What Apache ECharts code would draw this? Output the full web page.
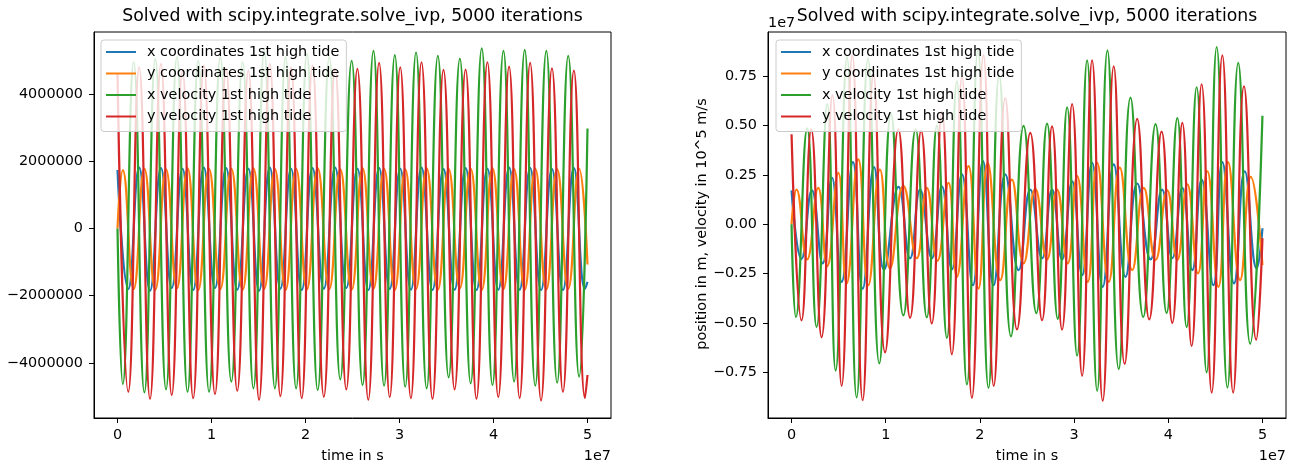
<!DOCTYPE html>
<html>
<head>
<meta charset="utf-8">
<script src="https://cdn.jsdelivr.net/npm/echarts@6/dist/echarts.min.js"></script>
<style>
  html, body { margin: 0; padding: 0; background: #fff; }
  #chart { width: 1295px; height: 468px; }
</style>
</head>
<body>
<div id="chart"></div>
<script>
var seriesNames = [
  "x coordinates 1st high tide",
  "y coordinates 1st high tide",
  "x velocity 1st high tide",
  "y velocity 1st high tide"
];
var colors = ["#1f77b4", "#ff7f0e", "#2ca02c", "#d62728"];
var titleText = "Solved with scipy.integrate.solve_ivp, 5000 iterations";

var xTicks = [0, 1, 2, 3, 4, 5]; // time, units of 1e7 s
var leftYTicks = [-4000000, -2000000, 0, 2000000, 4000000];
var rightYTicks = [-0.75, -0.5, -0.25, 0, 0.25, 0.5, 0.75]; // units of 1e7

// ---- left plot: times of the extrema (1e7 s) ----
// x coordinate / y velocity maxima (after t = 0)
var leftMaxT = [0.230, 0.462, 0.691, 0.918, 1.155, 1.392, 1.620, 1.846, 2.074, 2.315, 2.552,
  2.783, 3.008, 3.234, 3.468, 3.703, 3.935, 4.166, 4.390, 4.622, 4.855];
// y coordinate maxima / x velocity minima
var leftQ1T = [0.056, 0.286, 0.516, 0.745, 0.974, 1.211, 1.446, 1.674, 1.900, 2.130, 2.370,
  2.607, 2.836, 3.061, 3.289, 3.523, 3.757, 3.989, 4.219, 4.444, 4.677, 4.911];
// x coordinate / y velocity minima
var leftMinT = [0.115, 0.346, 0.577, 0.805, 1.037, 1.274, 1.506, 1.733, 1.960, 2.195, 2.434,
  2.668, 2.896, 3.121, 3.351, 3.586, 3.819, 4.051, 4.278, 4.506, 4.739, 4.973];
// y coordinate minima / x velocity maxima
var leftQ3T = [0.172, 0.402, 0.632, 0.859, 1.094, 1.331, 1.561, 1.788, 2.015, 2.253, 2.491,
  2.723, 2.950, 3.176, 3.408, 3.642, 3.875, 4.106, 4.332, 4.562, 4.795];

// ---- left plot: extremum values (units of 1e6) ----
var leftXPosMax = [1.81, 1.80, 1.78, 1.81, 1.80, 1.78, 1.81, 1.78, 1.80, 1.81, 1.78,
  1.80, 1.78, 1.81, 1.77, 1.80, 1.78, 1.81, 1.80, 1.77, 1.80];
var leftXPosMin = [-1.80, -1.85, -1.77, -1.83, -1.77, -1.82, -1.85, -1.79, -1.83, -1.79, -1.77,
  -1.83, -1.80, -1.82, -1.83, -1.82, -1.83, -1.82, -1.82, -1.83, -1.83, -1.80];
var leftYPosMax = [1.74, 1.78, 1.76, 1.79, 1.77, 1.78, 1.79, 1.77, 1.78, 1.79, 1.76,
  1.79, 1.78, 1.76, 1.79, 1.77, 1.78, 1.79, 1.77, 1.78, 1.76, 1.78];
var leftYPosMin = [-1.80, -1.82, -1.78, -1.83, -1.80, -1.82, -1.79, -1.83, -1.81, -1.80, -1.82,
  -1.79, -1.83, -1.80, -1.82, -1.78, -1.83, -1.80, -1.82, -1.81, -1.79];
var leftXVelMin = [-4.63, -4.88, -4.79, -4.86, -4.86, -4.56, -4.76, -4.76, -4.76, -4.81, -4.49,
  -4.66, -4.68, -4.71, -4.76, -4.43, -4.61, -4.66, -4.56, -4.68, -4.59, -4.41];
var leftXVelMax = [4.95, 5.04, 5.10, 5.00, 5.10, 4.95, 5.29, 5.10, 5.20, 5.10, 4.99,
  5.29, 5.16, 5.24, 5.14, 5.06, 5.36, 5.29, 5.32, 5.29, 5.14];
var leftYVelMax = [4.80, 4.90, 4.70, 4.85, 4.75, 4.70, 4.90, 4.80, 4.85, 4.75, 4.75,
  4.93, 4.80, 4.95, 4.72, 4.73, 4.95, 4.82, 4.93, 4.77, 4.70];
var leftYVelMin = [-4.86, -5.07, -4.96, -5.05, -4.93, -4.83, -5.10, -4.99, -5.05, -5.01, -4.79,
  -5.10, -5.02, -5.05, -5.07, -4.79, -5.07, -5.02, -5.05, -5.12, -4.86, -5.05];
// values at t = 0 and t = 5e7 s (1e6)
var leftStart = [1.74, 0, 0, 4.60];
var leftEnd = [-1.59, -1.07, 2.98, -4.36];

// ---- right plot: [time (1e7 s), value (1e7)] at start, extrema and end ----
var rightXPos = [[0, 0.172], [0.106, -0.175], [0.216, 0.172], [0.330, -0.198], [0.429, 0.236],
  [0.532, -0.292], [0.652, 0.315], [0.755, -0.326], [0.876, 0.290], [0.982, -0.230],
  [1.136, 0.190], [1.259, -0.172], [1.365, 0.176], [1.489, -0.172], [1.596, 0.193],
  [1.702, -0.229], [1.809, 0.253], [1.926, -0.309], [2.032, 0.320], [2.145, -0.309],
  [2.269, 0.253], [2.411, -0.232], [2.535, 0.176], [2.660, -0.172], [2.766, 0.176],
  [2.872, -0.178], [2.979, 0.218], [3.085, -0.258], [3.191, 0.312], [3.304, -0.317],
  [3.421, 0.304], [3.546, -0.266], [3.670, 0.207], [3.812, -0.178], [3.934, 0.176],
  [4.043, -0.172], [4.149, 0.185], [4.255, -0.232], [4.354, 0.227], [4.479, -0.309],
  [4.574, 0.315], [4.698, -0.300], [4.812, 0.269], [4.939, -0.224], [5.0, -0.020]];
var rightYPos = [[0, 0], [0.053, 0.176], [0.166, -0.178], [0.283, 0.185], [0.379, -0.212],
  [0.496, 0.261], [0.585, -0.300], [0.709, 0.329], [0.815, -0.309], [0.939, 0.278],
  [1.046, -0.224], [1.187, 0.195], [1.330, -0.172], [1.436, 0.185], [1.549, -0.185],
  [1.666, 0.210], [1.755, -0.266], [1.879, 0.295], [1.985, -0.326], [2.083, 0.310],
  [2.216, -0.283], [2.340, 0.227], [2.464, -0.198], [2.588, 0.180], [2.713, -0.178],
  [2.819, 0.176], [2.932, -0.198], [3.032, 0.244], [3.145, -0.292], [3.245, 0.312],
  [3.368, -0.292], [3.485, 0.287], [3.617, -0.232], [3.740, 0.185], [3.865, -0.181],
  [3.989, 0.172], [4.096, -0.181], [4.202, 0.202], [4.315, -0.249], [4.415, 0.269],
  [4.532, -0.317], [4.634, 0.315], [4.762, -0.283], [4.876, 0.240], [5.0, -0.207]];
var rightXVel = [[0, 0], [0.046, -0.470], [0.166, 0.486], [0.266, -0.520], [0.379, 0.610],
  [0.468, -0.742], [0.588, 0.848], [0.691, -0.878], [0.812, 0.840], [0.932, -0.705],
  [1.056, 0.560], [1.187, -0.462], [1.317, 0.482], [1.436, -0.472], [1.543, 0.500],
  [1.649, -0.576], [1.755, 0.725], [1.862, -0.812], [1.979, 0.885], [2.091, -0.830],
  [2.205, 0.754], [2.330, -0.568], [2.464, 0.499], [2.599, -0.450], [2.713, 0.510],
  [2.826, -0.479], [2.926, 0.593], [3.032, -0.666], [3.138, 0.831], [3.245, -0.844],
  [3.354, 0.882], [3.474, -0.734], [3.599, 0.642], [3.734, -0.470], [3.865, 0.508],
  [3.982, -0.450], [4.096, 0.538], [4.195, -0.521], [4.301, 0.695], [4.407, -0.751],
  [4.514, 0.899], [4.628, -0.828], [4.743, 0.818], [4.870, -0.606], [5.0, 0.550]];
var rightYVel = [[0, 0.457], [0.106, -0.487], [0.209, 0.482], [0.319, -0.572], [0.434, 0.655],
  [0.532, -0.819], [0.645, 0.856], [0.755, -0.892], [0.870, 0.760], [0.993, -0.649],
  [1.134, 0.482], [1.259, -0.474], [1.376, 0.474], [1.489, -0.503], [1.596, 0.570],
  [1.702, -0.659], [1.809, 0.746], [1.915, -0.880], [2.038, 0.856], [2.147, -0.819],
  [2.269, 0.640], [2.394, -0.533], [2.535, 0.464], [2.660, -0.486], [2.766, 0.497],
  [2.872, -0.534], [2.979, 0.610], [3.085, -0.768], [3.191, 0.831], [3.304, -0.895],
  [3.421, 0.801], [3.537, -0.708], [3.670, 0.535], [3.798, -0.482], [3.929, 0.470],
  [4.043, -0.500], [4.149, 0.514], [4.248, -0.617], [4.354, 0.710], [4.461, -0.853],
  [4.574, 0.856], [4.689, -0.853], [4.804, 0.700], [4.934, -0.585], [5.0, -0.070]];

var font = "DejaVu Sans";
var textSize = 14.4;

// merge two lists of extrema into one line, in plot units
function leftLine(start, end, tA, vA, tB, vB) {
  var pts = [[0, start]];
  for (var i = 0; i < tA.length; i++) pts.push([tA[i], vA[i]]);
  for (var j = 0; j < tB.length; j++) pts.push([tB[j], vB[j]]);
  pts.sort(function (a, b) { return a[0] - b[0]; });
  pts.push([5, end]);
  return pts.map(function (p) { return [p[0], p[1] * 1e6]; });
}

var leftData = [
  leftLine(leftStart[0], leftEnd[0], leftMaxT, leftXPosMax, leftMinT, leftXPosMin),
  leftLine(leftStart[1], leftEnd[1], leftQ1T, leftYPosMax, leftQ3T, leftYPosMin),
  leftLine(leftStart[2], leftEnd[2], leftQ1T, leftXVelMin, leftQ3T, leftXVelMax),
  leftLine(leftStart[3], leftEnd[3], leftMaxT, leftYVelMax, leftMinT, leftYVelMin)
];
var rightData = [rightXPos, rightYPos, rightXVel, rightYVel];

function minus(s) {
  return s.charAt(0) === "-" ? "\u2212" + s.slice(1) : s;
}

function timeAxis(grid) {
  return {
    type: "value", gridIndex: grid, min: -0.25, max: 5.25,
    axisLine: { onZero: false, lineStyle: { color: "#000", width: 1 } },
    axisTick: { customValues: xTicks, length: 5, lineStyle: { color: "#000" } },
    axisLabel: { customValues: xTicks, margin: 10, color: "#000", fontFamily: font, fontSize: textSize },
    splitLine: { show: false }
  };
}

function valueAxis(grid, min, max, ticks, fmt) {
  return {
    type: "value", gridIndex: grid, min: min, max: max,
    axisLine: { onZero: false, lineStyle: { color: "#000", width: 1 } },
    axisTick: { customValues: ticks, length: 5, lineStyle: { color: "#000" } },
    axisLabel: { customValues: ticks, margin: 11, color: "#000", fontFamily: font, fontSize: textSize, formatter: fmt },
    splitLine: { show: false }
  };
}

function makeLegend(left) {
  return {
    left: left, top: 40, orient: "vertical",
    data: seriesNames, icon: "rect", itemWidth: 30, itemHeight: 2, itemGap: 7.5,
    padding: [5, 7, 8, 5],
    backgroundColor: "rgba(255,255,255,0.8)",
    borderColor: "#cccccc", borderWidth: 1, borderRadius: 3,
    selectedMode: false,
    textStyle: { fontFamily: font, fontSize: textSize, color: "#000", padding: [0, 0, 0, 6] }
  };
}

function label(x, y, text, size, align) {
  return {
    type: "text", x: x, y: y, z: 100,
    style: { text: text, font: size + "px " + font, fill: "#000", textAlign: align || "center", textVerticalAlign: "middle" }
  };
}

var series = [];
for (var i = 0; i < 4; i++) {
  series.push({
    name: seriesNames[i], type: "line", xAxisIndex: 0, yAxisIndex: 0,
    data: leftData[i], smooth: true, symbol: "none",
    lineStyle: { color: colors[i], width: 2.2 }, itemStyle: { color: colors[i] }
  });
}
for (var k = 0; k < 4; k++) {
  series.push({
    name: seriesNames[k], type: "line", xAxisIndex: 1, yAxisIndex: 1,
    data: rightData[k], smooth: true, symbol: "none",
    lineStyle: { color: colors[k], width: 2.2 }, itemStyle: { color: colors[k] }
  });
}

var yLabel = label(702, 224, "position in m, velocity in 10^5 m/s", textSize);
yLabel.rotation = Math.PI / 2;

var option = {
  animation: false,
  backgroundColor: "#fff",
  grid: [
    { left: 94, top: 32, width: 517, height: 386, show: true, borderColor: "#000", borderWidth: 1 },
    { left: 768, top: 32, width: 518, height: 386, show: true, borderColor: "#000", borderWidth: 1 }
  ],
  xAxis: [timeAxis(0), timeAxis(1)],
  yAxis: [
    valueAxis(0, -5640000, 5850000, leftYTicks, function (v) { return minus(String(v)); }),
    valueAxis(1, -0.982, 0.975, rightYTicks, function (v) { return minus(v.toFixed(2)); })
  ],
  legend: [makeLegend(101), makeLegend(776)],
  graphic: [
    label(352.5, 17, titleText, 17.3),
    label(1027, 17, titleText, 17.3),
    label(352.5, 456, "time in s", textSize),
    label(1027, 456, "time in s", textSize),
    label(611, 456, "1e7", textSize, "right"),
    label(1286, 456, "1e7", textSize, "right"),
    label(768, 23, "1e7", textSize, "left"),
    yLabel
  ],
  series: series
};

var myChart = echarts.init(document.getElementById("chart"));
myChart.setOption(option);
</script>
</body>
</html>
